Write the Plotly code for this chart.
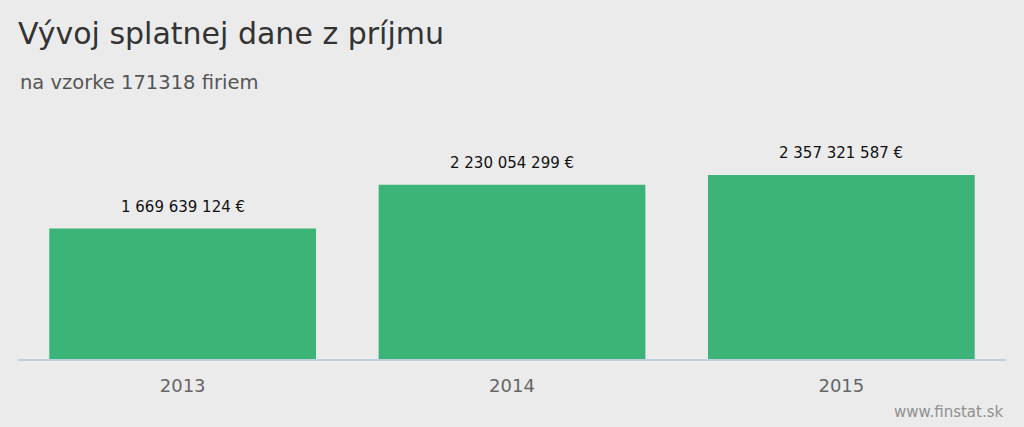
import plotly.graph_objects as go

# data
years = ["2013", "2014", "2015"]
tax_values = [1669639124, 2230054299, 2357321587]

TITLE = "Vývoj splatnej dane z príjmu"
SUBTITLE = "na vzorke 171318 firiem"
CREDIT = "www.finstat.sk"

BG = "#EBEBEB"
BAR_COLOR = "#3CB478"
FONT = "DejaVu Sans, Verdana, sans-serif"


def fmt_eur(v):
    return f"{v:,}".replace(",", " ") + " €"


fig = go.Figure(go.Bar(x=years, y=tax_values, marker=dict(color=BAR_COLOR, line=dict(width=0)),
                       hoverinfo="skip"))

# category index, since a numeric-looking string gets read as a position
for i, v in enumerate(tax_values):
    fig.add_annotation(x=i, y=v, text=fmt_eur(v), showarrow=False, yanchor="bottom", yshift=11,
                       font=dict(family=FONT, size=15, color="#111111"))

fig.add_annotation(xref="paper", yref="paper", x=0, y=1.155, xanchor="left", yanchor="middle",
                   text=SUBTITLE, showarrow=False, font=dict(family=FONT, size=19.5, color="#555555"))
fig.add_annotation(xref="paper", yref="paper", x=1, y=-0.222, xanchor="right", yanchor="middle",
                   text=CREDIT, showarrow=False, font=dict(family=FONT, size=15, color="#909090"))

fig.update_layout(
    width=1024, height=427,
    paper_bgcolor=BG, plot_bgcolor=BG,
    margin=dict(l=18, r=18, t=120, b=68),
    bargap=0.19,
    showlegend=False,
    title=dict(text=TITLE, x=18 / 1024, xanchor="left", y=1 - 33 / 427, yanchor="middle",
               font=dict(family=FONT, size=30, color="#333333")),
    xaxis=dict(type="category", showgrid=False, showline=True, linecolor="#BCD0DE", linewidth=1.5,
               ticks="", ticklabelstandoff=10,
               tickfont=dict(family=FONT, size=18, color="#666666")),
    yaxis=dict(visible=False, range=[0, 3060000000], showgrid=False, zeroline=False),
)

# page has a default 8px body margin; drop it so the figure fills the window
fig.write_html("out.html", config={"displayModeBar": False},
               post_script="document.body.style.margin='0';")
